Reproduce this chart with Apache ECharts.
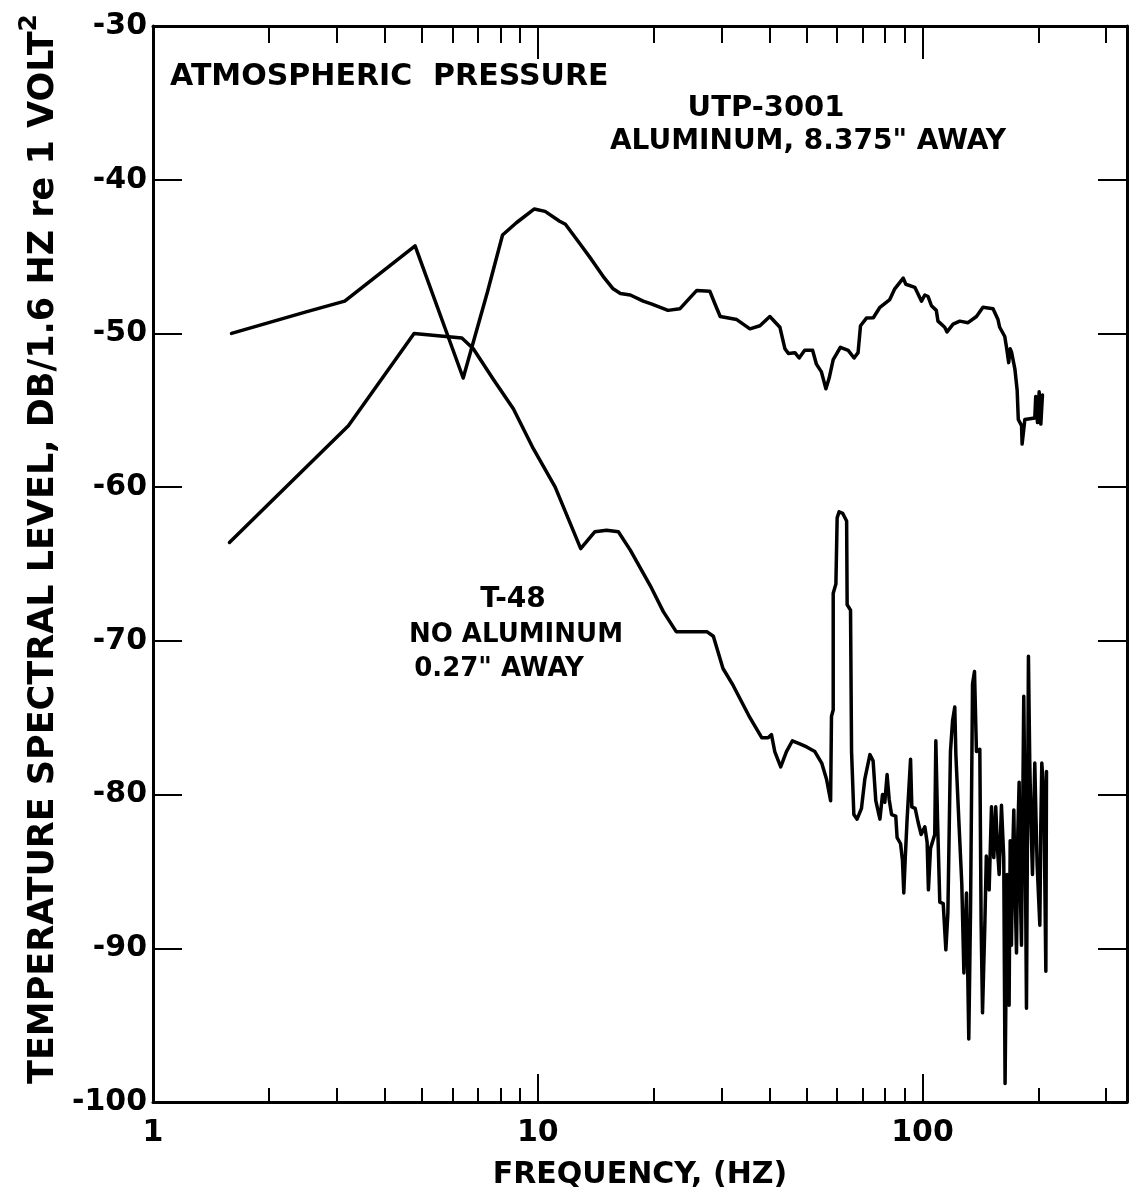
<!DOCTYPE html>
<html>
<head>
<meta charset="utf-8">
<script src="https://cdn.jsdelivr.net/npm/echarts@6/dist/echarts.min.js"></script>
<style>
  html, body { margin: 0; padding: 0; background: #fff; }
  #chart { width: 1131px; height: 1195px; }
</style>
</head>
<body>
<div id="chart"></div>
<script>
// Spectral levels (dB per 1.6 Hz band re 1 V^2) versus frequency (Hz)

// UTP-3001, aluminum 8.375" away
const utpFreq = [1.6, 2.5, 3.15, 4.8, 6.4, 7.4, 8.1, 8.8, 9.8, 10.45,
  11.4, 11.8, 12.9, 13.8, 14.8, 15.7, 16.4, 17.4, 18.8, 19.8,
  21.8, 23.4, 25.9, 28.0, 28.9, 29.8, 32.9, 35.6, 37.8, 40.1,
  42.6, 43.9, 44.8, 46.6, 47.8, 49.4, 51.8, 53.0, 54.6, 56.1,
  57.2, 58.6, 61.2, 64.1, 66.4, 68.0, 69.0, 71.5, 74.5, 77.5,
  82.2, 84.7, 89.1, 90.5, 95.5, 99.4, 101.4, 103.4, 105.5, 108.6,
  109.7, 114.2, 115.8, 120.1, 125.0, 131.3, 138.1, 143.6, 152.5, 157.1,
  158.7, 163.6, 165.3, 167.5, 169, 170.3, 173.8, 176.2, 177.4, 180.9,
  181.5, 184.5, 195.8, 196.9, 199, 201, 203, 205];
const utpLevel = [-50, -48.6, -47.9, -44.3, -52.9, -47.3, -43.6, -42.8, -41.9, -42.06,
  -42.7, -42.9, -44.2, -45.2, -46.3, -47.1, -47.4, -47.5, -47.9, -48.1,
  -48.5, -48.4, -47.2, -47.25, -48.1, -48.9, -49.1, -49.7, -49.5, -48.9,
  -49.6, -51.0, -51.3, -51.25, -51.6, -51.1, -51.1, -52.0, -52.5, -53.6,
  -52.9, -51.7, -50.9, -51.1, -51.6, -51.25, -49.5, -49.0, -48.98, -48.3,
  -47.8, -47.1, -46.4, -46.8, -47.0, -47.9, -47.5, -47.6, -48.2, -48.5,
  -49.2, -49.6, -49.9, -49.4, -49.2, -49.3, -48.9, -48.3, -48.4, -49.1,
  -49.6, -50.2, -50.9, -51.9, -51.0, -51.2, -52.3, -53.7, -55.6, -56.0,
  -57.2, -55.6, -55.5, -54.1, -55.8, -53.8, -55.9, -54.0];

// T-48, no aluminum, 0.27" away
const t48Freq = [1.58, 3.22, 4.77, 6.35, 6.8, 7.67, 8.64, 9.74, 11.1, 12.93,
  14.08, 15.1, 16.2, 17.4, 19.6, 21.2, 22.9, 24.4, 27.5, 28.6,
  30.3, 32.2, 35.6, 38.2, 39.7, 40.5, 41.3, 42.8, 44.3, 45.9,
  48.0, 50.0, 52.5, 54.7, 56.3, 57.7, 58.0, 58.6, 58.6, 59.55,
  60.0, 60.7, 62.0, 63.5, 63.7, 65.0, 65.4, 66.3, 67.6, 69.4,
  70.8, 73.0, 74.4, 75.6, 77.5, 78.7, 79.8, 80.9, 81.9, 83.1,
  85.2, 85.9, 87.7, 88.7, 89.4, 90.2, 91.2, 93.1, 93.8, 95.7,
  97.4, 99.2, 101.4, 102.8, 103.6, 104.9, 107.6, 108.3, 109.4, 110.9,
  113.2, 115.0, 116.4, 118.2, 119.7, 121.3, 122.1, 124.5, 126.5, 128.1,
  130.1, 131.9, 133.3, 134.9, 136.5, 138.1, 140.9, 142.0, 143.2, 145.2,
  146.5, 149.0, 151.1, 152.2, 153.2, 155.0, 156.6, 158.2, 160.4, 162.6,
  163.9, 165.9, 167.9, 169.0, 170.3, 171.5, 172.7, 174.1, 175.5, 176.9,
  178.3, 179.5, 180.8, 183.3, 184.8, 186.3, 188.5, 190.0, 191.5, 193.1,
  195.8, 197.2, 198.6, 201.8, 203.0, 204.2, 206.7, 209.2, 210.0];
const t48Level = [-63.6, -56.0, -50.0, -50.3, -51.0, -53.0, -54.9, -57.5, -60.0, -64.0,
  -62.9, -62.8, -62.9, -64.1, -66.4, -68.1, -69.4, -69.4, -69.4, -69.7,
  -71.8, -72.9, -75.0, -76.3, -76.3, -76.1, -77.2, -78.2, -77.2, -76.5,
  -76.7, -76.9, -77.2, -77.95, -79.0, -80.4, -74.9, -74.5, -66.9, -66.3,
  -62.0, -61.6, -61.7, -62.2, -67.65, -68.0, -77.2, -81.3, -81.6, -80.9,
  -79.0, -77.4, -77.8, -80.4, -81.6, -80.0, -80.5, -78.7, -80.3, -81.3,
  -81.4, -82.8, -83.2, -84.3, -86.4, -84.1, -81.6, -77.7, -80.8, -80.9,
  -81.8, -82.6, -82.1, -83.1, -86.2, -83.5, -82.6, -76.5, -81.6, -87.0,
  -87.1, -90.1, -87.7, -77.2, -75.2, -74.3, -77.4, -82.1, -85.8, -91.6,
  -86.4, -95.9, -87.5, -72.8, -72.0, -77.2, -77.05, -88.25, -94.2, -88.5,
  -84.0, -86.2, -80.8, -83.0, -84.1, -80.8, -83.5, -85.2, -80.7, -84.1,
  -98.8, -85.2, -93.7, -83.0, -89.8, -84.0, -81.0, -86.5, -90.3, -82.5,
  -79.2, -86.0, -89.8, -73.6, -82.0, -93.9, -71.0, -77.95, -82.0, -85.2,
  -77.95, -81.5, -84.6, -88.5, -82.0, -77.95, -80.0, -91.5, -78.5];

// Axis ticks
const freqMajorTicks = [1, 10, 100];
const freqMinorTicks = [2, 3, 4, 5, 6, 7, 8, 9, 20, 30, 40, 50, 60, 70, 80, 90, 200, 300];
const freqMin = 1;
const freqMax = 340;
const levelMin = -100;
const levelMax = -30;
const levelStep = 10;

const FONT = 'DejaVu Sans';
const INK = '#000';

function pairs(xs, ys) {
  return xs.map((x, i) => [x, ys[i]]);
}

function freqAxis(position, ticks, tickLen, showLabels, showLine) {
  return {
    type: 'log',
    logBase: 10,
    min: freqMin,
    max: freqMax,
    position: position,
    axisLine: { show: showLine, onZero: false, lineStyle: { color: INK, width: 3 } },
    axisTick: { show: true, inside: true, length: tickLen, customValues: ticks,
      lineStyle: { color: INK, width: 2 } },
    axisLabel: { show: showLabels, customValues: ticks, margin: 16,
      color: INK, fontFamily: FONT, fontWeight: 'bold', fontSize: 30,
      formatter: v => String(Math.round(v)) },
    splitLine: { show: false },
    minorTick: { show: false },
    minorSplitLine: { show: false }
  };
}

const chart = echarts.init(document.getElementById('chart'), null, { renderer: 'canvas' });

chart.setOption({
  animation: false,
  backgroundColor: '#fff',
  grid: { left: 153, right: 4, top: 26, bottom: 90, containLabel: false },
  xAxis: [
    Object.assign(freqAxis('bottom', freqMajorTicks, 28, true, true), {
      name: 'FREQUENCY, (HZ)',
      nameLocation: 'middle',
      nameGap: 58,
      nameTextStyle: { color: INK, fontFamily: FONT, fontWeight: 'bold', fontSize: 30 }
    }),
    freqAxis('bottom', freqMinorTicks, 14, false, false),
    freqAxis('top', freqMinorTicks, 17, false, true),
    freqAxis('top', freqMajorTicks.slice(1), 33, false, false)
  ],
  yAxis: [
    {
      type: 'value',
      min: levelMin,
      max: levelMax,
      interval: levelStep,
      position: 'left',
      name: 'TEMPERATURE SPECTRAL LEVEL, DB/1.6 HZ re 1 VOLT{sup|2}',
      nameLocation: 'middle',
      nameGap: 76,
      nameTextStyle: {
        color: INK, fontFamily: FONT, fontWeight: 'bold', fontSize: 35,
        padding: [0, 0, 0, 30],
        rich: {
          sup: { color: INK, fontFamily: FONT, fontWeight: 'bold', fontSize: 25,
            padding: [0, 0, 28, 0] }
        }
      },
      axisLine: { show: true, onZero: false, lineStyle: { color: INK, width: 3 } },
      axisTick: { show: true, inside: true, length: 29, lineStyle: { color: INK, width: 2 } },
      axisLabel: { margin: 6, color: INK, fontFamily: FONT, fontWeight: 'bold', fontSize: 30 },
      splitLine: { show: false }
    },
    {
      type: 'value',
      min: levelMin,
      max: levelMax,
      interval: levelStep,
      position: 'right',
      axisLine: { show: true, onZero: false, lineStyle: { color: INK, width: 3 } },
      axisTick: { show: true, inside: true, length: 29, lineStyle: { color: INK, width: 2 } },
      axisLabel: { show: false },
      splitLine: { show: false }
    }
  ],
  series: [
    {
      name: 'UTP-3001',
      type: 'line',
      xAxisIndex: 0,
      yAxisIndex: 0,
      data: pairs(utpFreq, utpLevel),
      showSymbol: false,
      symbol: 'none',
      lineStyle: { color: INK, width: 3.5, join: 'round', cap: 'round' }
    },
    {
      name: 'T-48',
      type: 'line',
      xAxisIndex: 0,
      yAxisIndex: 0,
      data: pairs(t48Freq, t48Level),
      showSymbol: false,
      symbol: 'none',
      lineStyle: { color: INK, width: 3.5, join: 'round', cap: 'round' }
    }
  ],
  graphic: [
    { type: 'text', left: 170, top: 62,
      style: { text: 'ATMOSPHERIC  PRESSURE', fill: INK, fontFamily: FONT, fontWeight: 'bold', fontSize: 30 } },
    { type: 'text', x: 766, y: 108,
      style: { text: 'UTP-3001', fill: INK, fontFamily: FONT, fontWeight: 'bold', fontSize: 29,
        align: 'center', verticalAlign: 'middle' } },
    { type: 'text', x: 808, y: 142,
      style: { text: 'ALUMINUM, 8.375" AWAY', fill: INK, fontFamily: FONT, fontWeight: 'bold', fontSize: 28,
        align: 'center', verticalAlign: 'middle' } },
    { type: 'text', x: 513, y: 600,
      style: { text: 'T-48', fill: INK, fontFamily: FONT, fontWeight: 'bold', fontSize: 28,
        align: 'center', verticalAlign: 'middle' } },
    { type: 'text', x: 516, y: 635,
      style: { text: 'NO ALUMINUM', fill: INK, fontFamily: FONT, fontWeight: 'bold', fontSize: 26,
        align: 'center', verticalAlign: 'middle' } },
    { type: 'text', x: 499, y: 669,
      style: { text: '0.27" AWAY', fill: INK, fontFamily: FONT, fontWeight: 'bold', fontSize: 26,
        align: 'center', verticalAlign: 'middle' } }
  ]
});
</script>
</body>
</html>
